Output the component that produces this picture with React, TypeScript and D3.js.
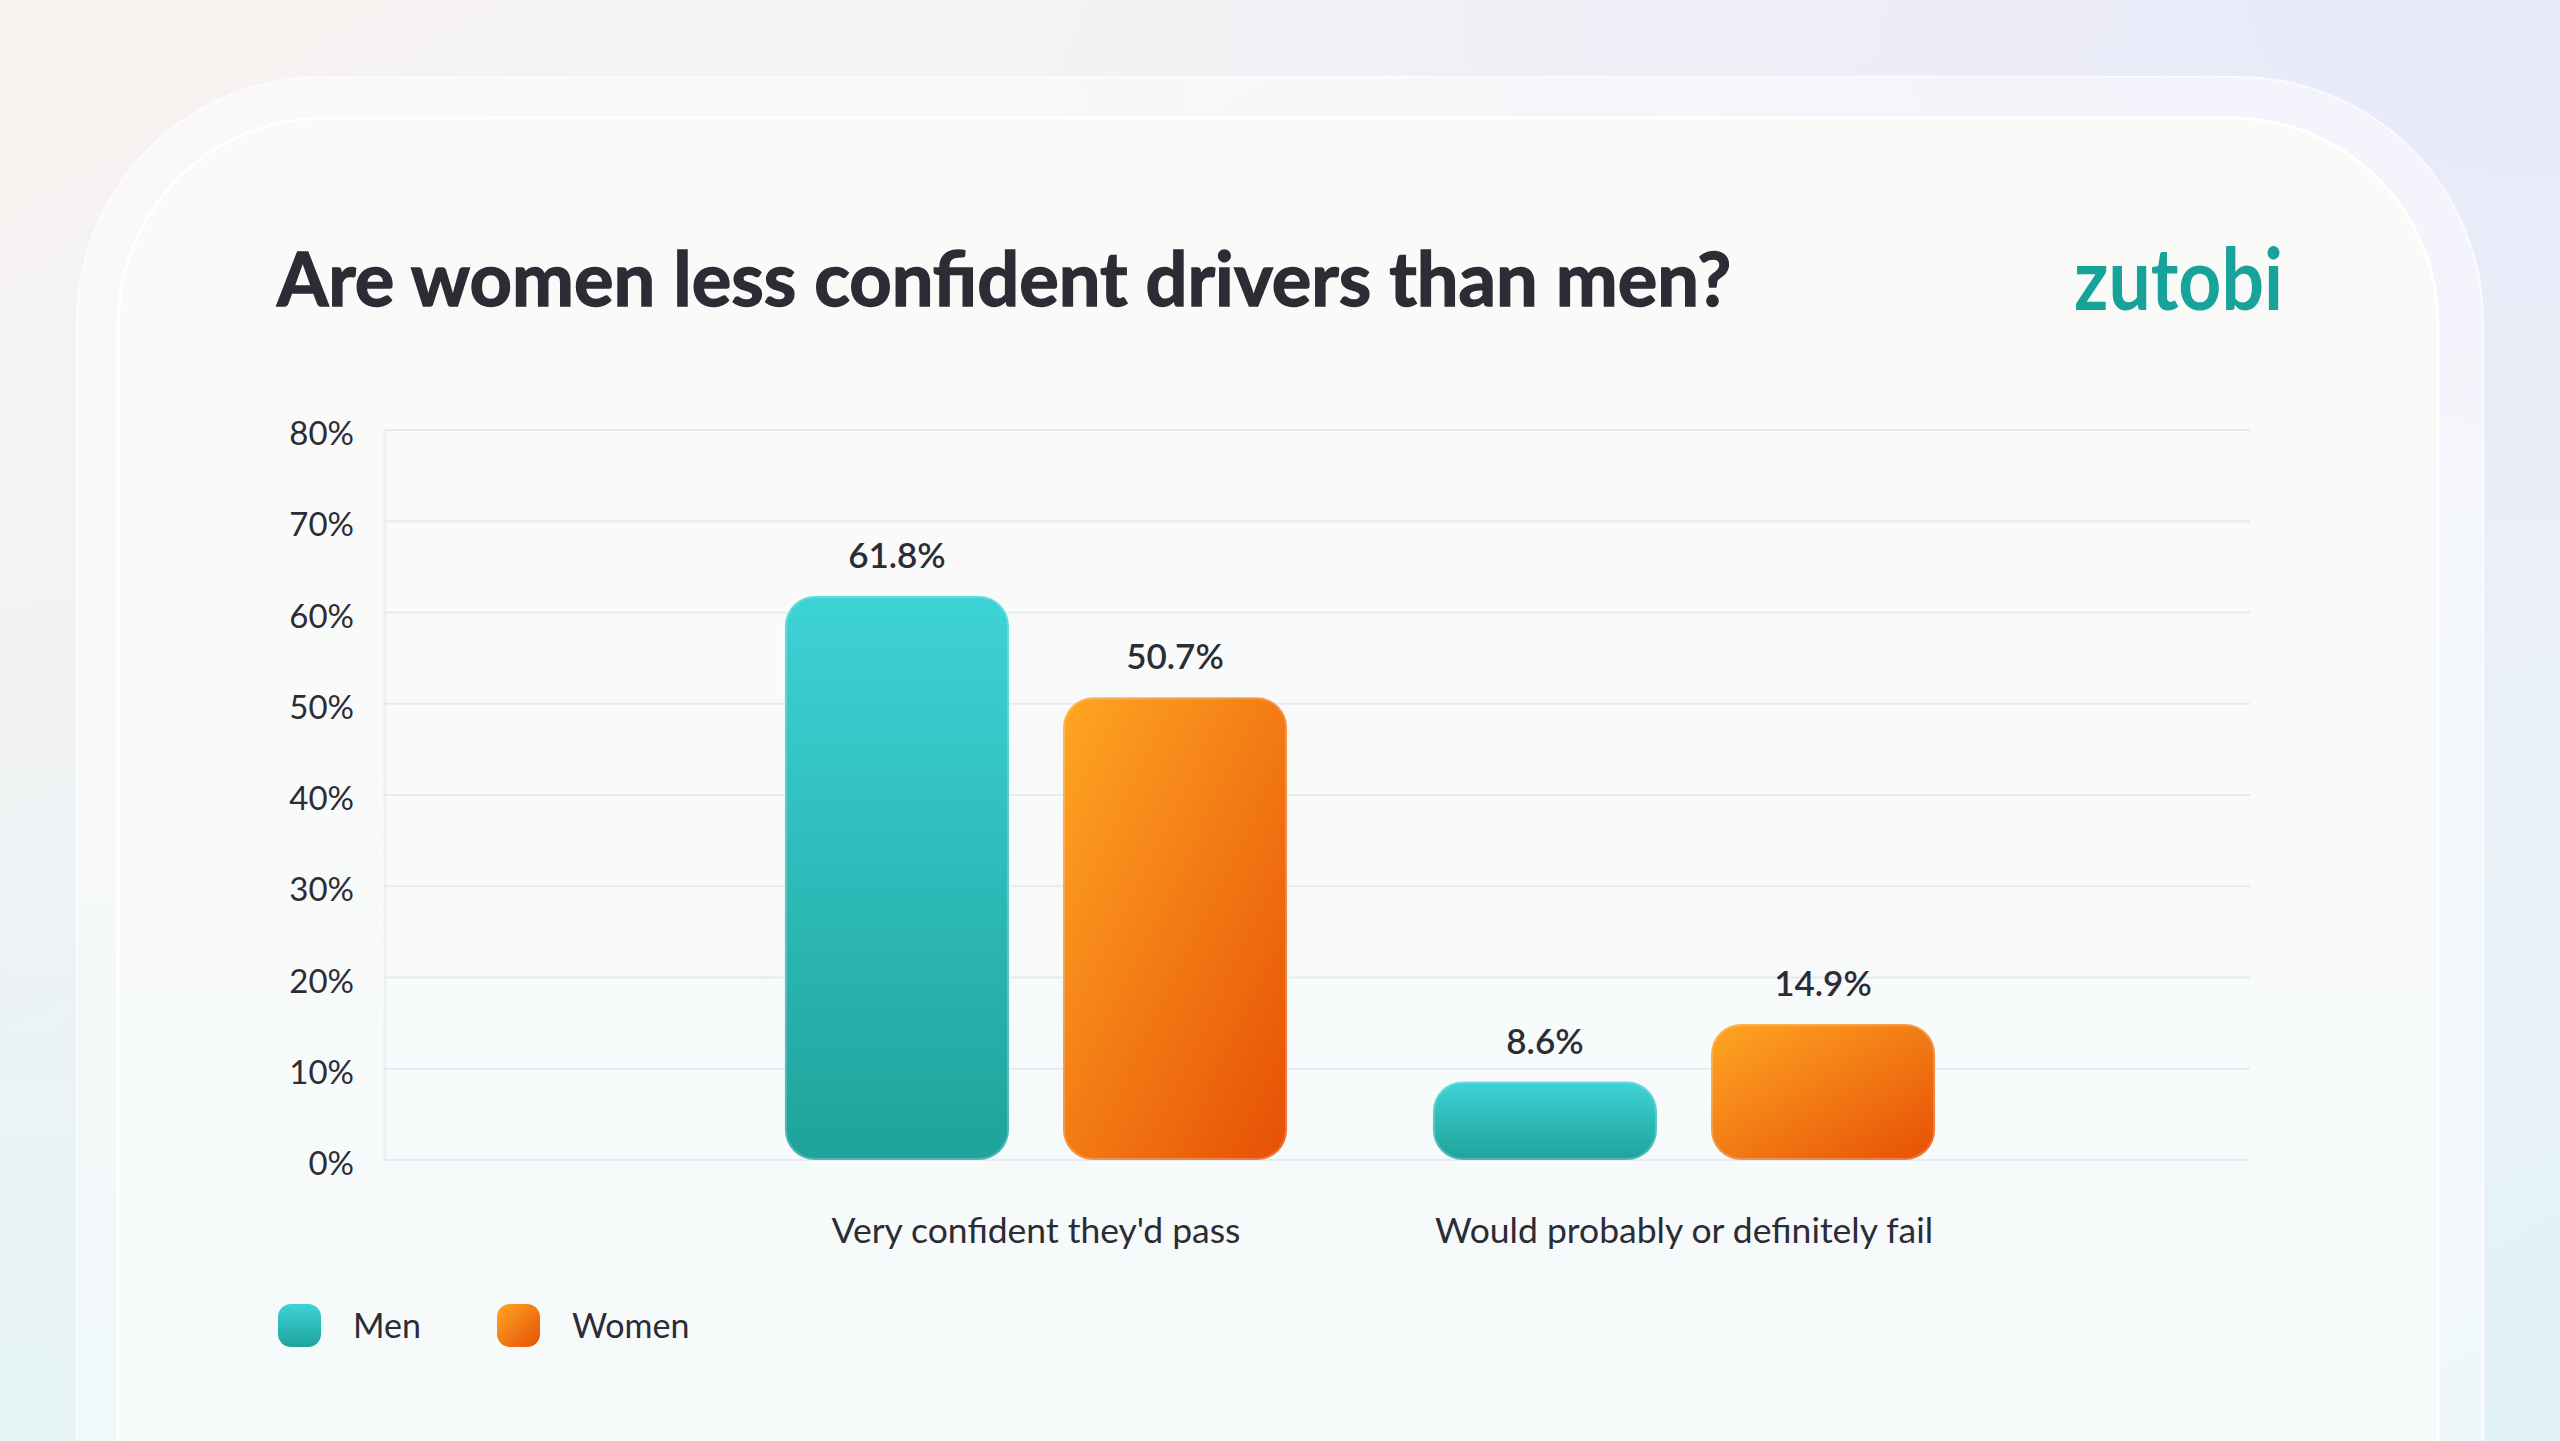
import React from 'react';
import * as d3 from 'd3';

const title = 'Are women less confident drivers than men?';
const brand = 'zutobi';
const categories = ["Very confident they'd pass", 'Would probably or definitely fail'];
const seriesNames = ['Men', 'Women'];
const menValues = [61.8, 8.6];
const womenValues = [50.7, 14.9];
const yTicks = [0, 10, 20, 30, 40, 50, 60, 70, 80];

const W = 2560;
const H = 1441;
const FONT = 'Lato, "Noto Sans", sans-serif';
const TEXT = '#2c2c35';

const App = () => {
  const values: { [k: string]: number[] } = { Men: menValues, Women: womenValues };

  const y = d3.scaleLinear().domain([0, 80]).range([1160, 430]);

  // group band, outer padding = half the inner padding
  const x0 = d3
    .scaleBand<string>()
    .domain(categories)
    .range([712, 2008])
    .paddingInner(0.225)
    .paddingOuter(0.1125);

  const x1 = d3
    .scaleBand<string>()
    .domain(seriesNames)
    .range([0, x0.bandwidth()])
    .paddingInner(0.194);

  const fillFor = (s: string) => (s === 'Men' ? 'url(#gMen)' : 'url(#gWomen)');

  return (
    <svg
      width={W}
      height={H}
      viewBox={`0 0 ${W} ${H}`}
      style={{ position: 'fixed', left: 0, top: 0, display: 'block' }}
    >
      <defs>
        <linearGradient id='bgBase' x1='0' y1='0' x2='1' y2='1'>
          <stop offset='0%' stopColor='#f7f3f1' />
          <stop offset='50%' stopColor='#f1f2f6' />
          <stop offset='100%' stopColor='#e3f1f9' />
        </linearGradient>
        <radialGradient id='bgTR' cx='1' cy='0' r='0.6'>
          <stop offset='0%' stopColor='#e8e9fa' stopOpacity='1' />
          <stop offset='100%' stopColor='#e8e9fa' stopOpacity='0' />
        </radialGradient>
        <radialGradient id='bgBL' cx='0' cy='1' r='0.6'>
          <stop offset='0%' stopColor='#e5f3f5' stopOpacity='1' />
          <stop offset='100%' stopColor='#e5f3f5' stopOpacity='0' />
        </radialGradient>
        <linearGradient id='card' x1='0' y1='0' x2='0' y2='1'>
          <stop offset='0%' stopColor='#fbfaf9' />
          <stop offset='100%' stopColor='#f5fafc' />
        </linearGradient>
        <linearGradient id='gMen' x1='0' y1='0' x2='0' y2='1'>
          <stop offset='0%' stopColor='#3dd3d6' />
          <stop offset='100%' stopColor='#1fa39b' />
        </linearGradient>
        <linearGradient id='gWomen' x1='0' y1='0' x2='1' y2='1'>
          <stop offset='0%' stopColor='#ffa623' />
          <stop offset='100%' stopColor='#e65006' />
        </linearGradient>
      </defs>

      {/* background and cards */}
      <rect x={0} y={0} width={W} height={H} fill='url(#bgBase)' />
      <rect x={0} y={0} width={W} height={H} fill='url(#bgTR)' />
      <rect x={0} y={0} width={W} height={H} fill='url(#bgBL)' />
      <rect
        x={77}
        y={77}
        width={2406}
        height={1700}
        rx={245}
        fill='rgba(255,255,255,0.45)'
        stroke='rgba(255,255,255,0.7)'
        strokeWidth={2}
      />
      <rect
        x={118}
        y={118}
        width={2320}
        height={1700}
        rx={206}
        fill='url(#card)'
        stroke='#ffffff'
        strokeWidth={3}
      />

      {/* header */}
      <text
        x={277}
        y={306}
        fontFamily={FONT}
        fontWeight={700}
        fontSize={74}
        fill={TEXT}
        stroke={TEXT}
        strokeWidth={1.4}
      >
        {title}
      </text>
      <text
        x={2074}
        y={310}
        fontFamily={FONT}
        fontWeight={700}
        fontSize={86}
        fill='#17a39a'
        textLength={209}
        lengthAdjust='spacingAndGlyphs'
      >
        {brand}
      </text>

      {/* grid */}
      <line x1={385} x2={385} y1={y(80)} y2={y(0)} stroke='#eef0f4' strokeWidth={3} />
      {yTicks.map((t) => (
        <g key={t}>
          <line x1={384} x2={2250} y1={y(t)} y2={y(t)} stroke='#e6e9ef' strokeWidth={2} />
          <text
            x={354}
            y={y(t) + 15}
            textAnchor='end'
            fontFamily={FONT}
            fontSize={33}
            fill={TEXT}
          >
            {t}%
          </text>
        </g>
      ))}

      {/* bars */}
      {categories.map((c, ci) => (
        <g key={c} transform={`translate(${x0(c)},0)`}>
          {seriesNames.map((s) => {
            const v = values[s][ci];
            const bx = x1(s) as number;
            const bw = x1.bandwidth();
            return (
              <g key={s}>
                <rect
                  x={bx}
                  y={y(v)}
                  width={bw}
                  height={y(0) - y(v)}
                  rx={30}
                  fill={fillFor(s)}
                  stroke='rgba(255,255,255,0.22)'
                  strokeWidth={4}
                />
                <text
                  x={bx + bw / 2}
                  y={y(v) - 28}
                  textAnchor='middle'
                  fontFamily={FONT}
                  fontWeight={600}
                  fontSize={35}
                  fill={TEXT}
                >
                  {v}%
                </text>
              </g>
            );
          })}
          <text
            x={x0.bandwidth() / 2}
            y={1243}
            textAnchor='middle'
            fontFamily={FONT}
            fontSize={35.5}
            fill={TEXT}
          >
            {c}
          </text>
        </g>
      ))}

      {/* legend */}
      {seriesNames.map((s, i) => {
        const lx = [278, 497][i];
        return (
          <g key={s}>
            <rect x={lx} y={1304} width={43} height={43} rx={13} fill={fillFor(s)} />
            <text x={lx + 75} y={1338} fontFamily={FONT} fontSize={34} fill={TEXT}>
              {s}
            </text>
          </g>
        );
      })}
    </svg>
  );
};

export default App;
